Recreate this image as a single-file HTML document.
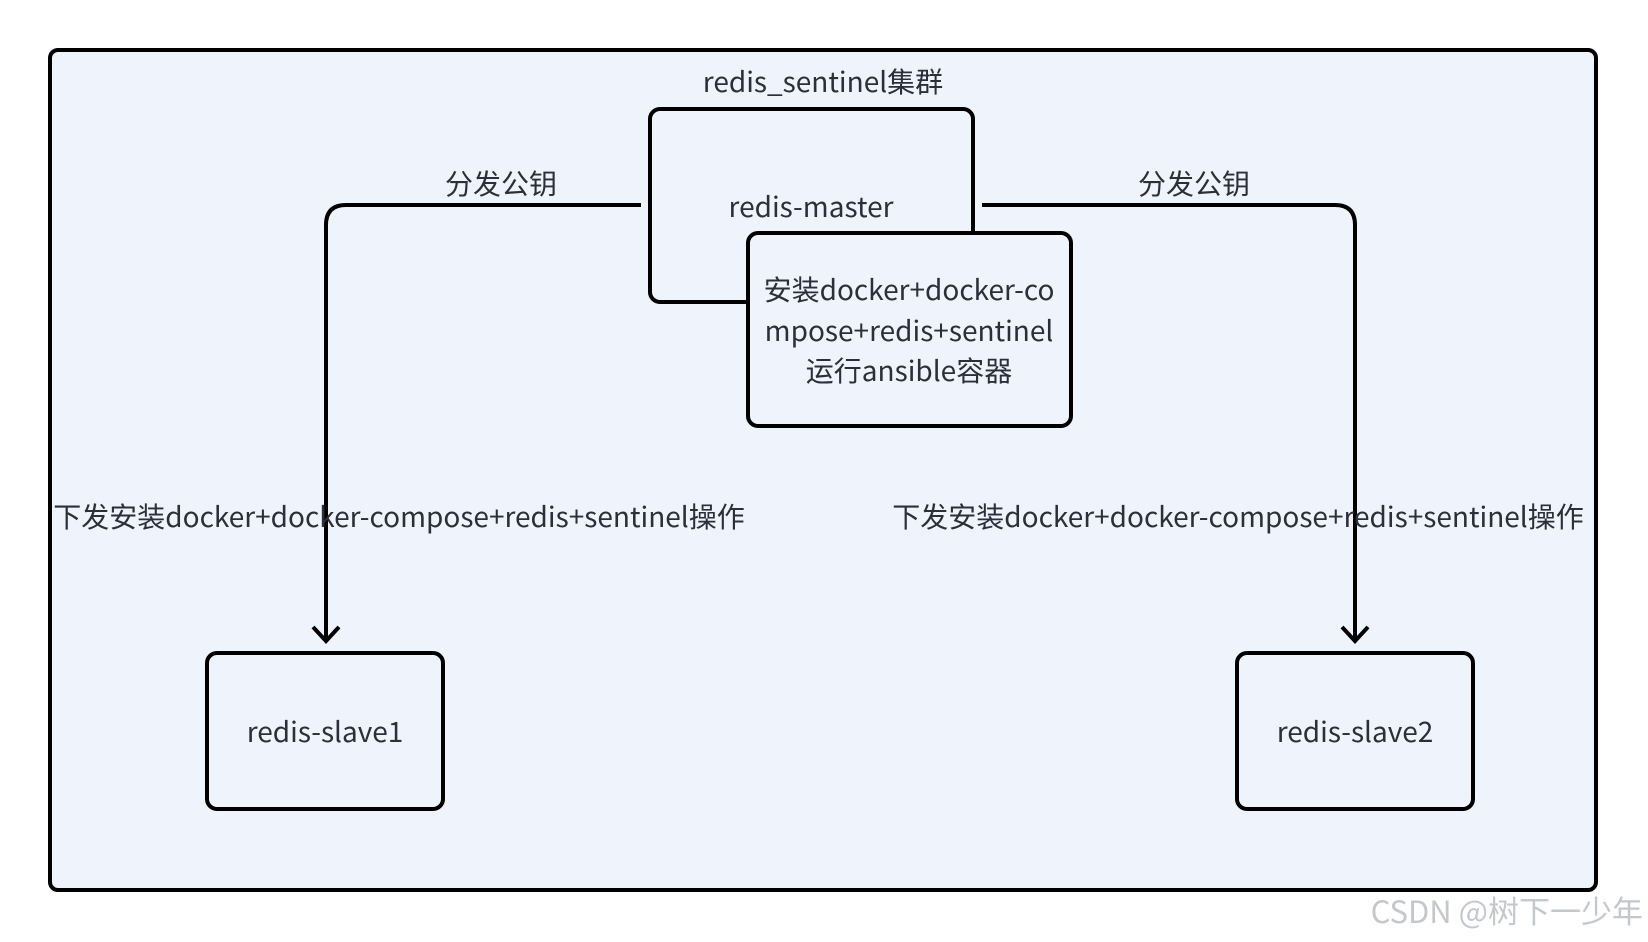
<!DOCTYPE html>
<html><head><meta charset="utf-8"><style>
html,body{margin:0;padding:0;background:#fff;width:1648px;height:942px;overflow:hidden}
svg text{font-family:"Noto Sans CJK SC","Liberation Sans",sans-serif;fill:#2a2f3a}
</style></head><body>
<svg width="1648" height="942" viewBox="0 0 1648 942" xmlns="http://www.w3.org/2000/svg">
<rect x="50" y="50" width="1546" height="840" rx="8" fill="#eef3fc" stroke="#000" stroke-width="4"/>
<text x="823" y="92" font-size="28" text-anchor="middle">redis_sentinel集群</text>
<rect x="650" y="109" width="323" height="193" rx="10" fill="#eef3fc" stroke="#000" stroke-width="4"/>
<text x="811" y="217" font-size="28" text-anchor="middle">redis-master</text>
<rect x="748" y="233" width="323" height="193" rx="10" fill="#eef3fc" stroke="#000" stroke-width="4"/>
<text x="909" y="300" font-size="28" text-anchor="middle">安装docker+docker-co</text>
<text x="909" y="341" font-size="28" text-anchor="middle">mpose+redis+sentinel</text>
<text x="909" y="381" font-size="28" text-anchor="middle">运行ansible容器</text>
<path d="M641 205 H346 Q326 205 326 225 V641" fill="none" stroke="#000" stroke-width="4"/>
<path d="M313 627 L326 641 L339 627" fill="none" stroke="#000" stroke-width="4"/>
<path d="M982 205 H1335 Q1355 205 1355 225 V641" fill="none" stroke="#000" stroke-width="4"/>
<path d="M1342 627 L1355 641 L1368 627" fill="none" stroke="#000" stroke-width="4"/>
<text x="501" y="194" font-size="28" text-anchor="middle">分发公钥</text>
<text x="1194" y="194" font-size="28" text-anchor="middle">分发公钥</text>
<text x="399" y="527" font-size="28" text-anchor="middle">下发安装docker+docker-compose+redis+sentinel操作</text>
<text x="1238" y="527" font-size="28" text-anchor="middle">下发安装docker+docker-compose+redis+sentinel操作</text>
<rect x="207" y="653" width="236" height="156" rx="10" fill="#eef3fc" stroke="#000" stroke-width="4"/>
<text x="325" y="742" font-size="28" text-anchor="middle">redis-slave1</text>
<rect x="1237" y="653" width="236" height="156" rx="10" fill="#eef3fc" stroke="#000" stroke-width="4"/>
<text x="1355" y="742" font-size="28" text-anchor="middle">redis-slave2</text>
<text x="1643" y="923" font-size="31" text-anchor="end" style="fill:#c4c7cc">CSDN @树下一少年</text>
</svg>
</body></html>
